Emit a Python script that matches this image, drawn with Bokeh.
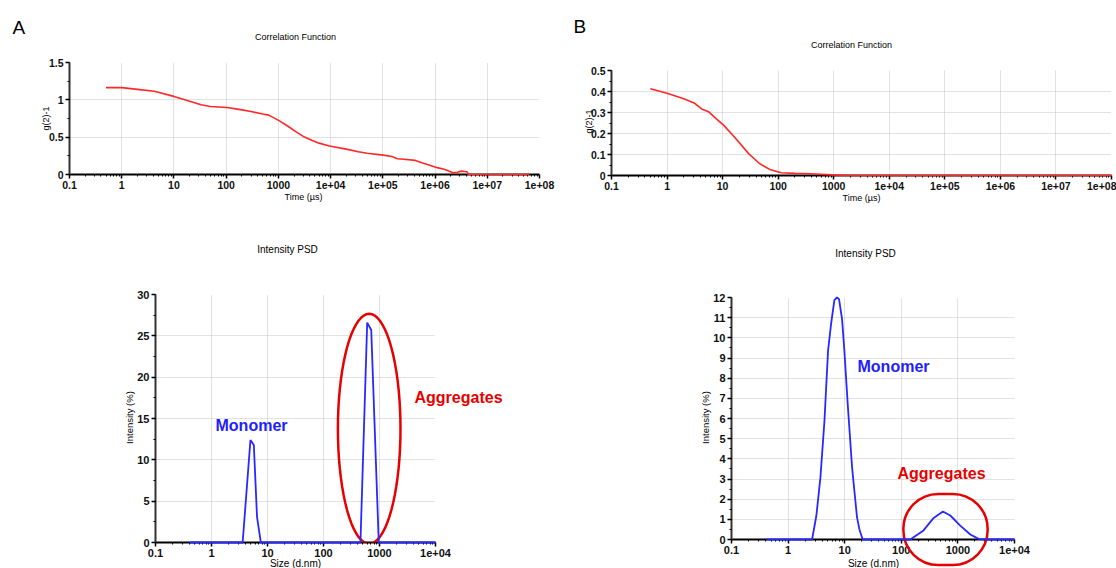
import math
from bokeh.plotting import figure
from bokeh.layouts import row, column
from bokeh.models import (Range1d, FixedTicker, SingleIntervalTicker,
                          CustomJSTickFormatter, Label, PolyAnnotation)
from bokeh.embed import file_html
from bokeh.resources import INLINE

# ---------------- data ----------------
time_ticks = [0.1, 1, 10, 100, 1000, 1e4, 1e5, 1e6, 1e7, 1e8]
time_tick_labels = ["0.1", "1", "10", "100", "1000", "1e+04", "1e+05", "1e+06", "1e+07", "1e+08"]
size_ticks = [0.1, 1, 10, 100, 1000, 1e4]
size_tick_labels = ["0.1", "1", "10", "100", "1000", "1e+04"]

# Panel A - correlation function
a_corr_time = [0.5, 1, 2, 4.2, 10, 20, 33, 50, 104, 200, 300, 500, 655, 1050, 1500,
               2300, 3000, 4350, 6000, 9500, 2e4, 3.4e4, 5e4, 1.02e5, 1.5e5, 1.9e5,
               2.5e5, 4.2e5, 6e5, 1e6, 1.5e6, 2.2e6, 2.7e6, 3.2e6, 4.1e6, 4.4e6, 1e7, 6.4e7]
a_corr_g2 = [1.163, 1.163, 1.14, 1.114, 1.046, 0.98, 0.934, 0.91, 0.898, 0.865, 0.844,
             0.81, 0.795, 0.718, 0.65, 0.561, 0.51, 0.458, 0.42, 0.382, 0.34, 0.305,
             0.285, 0.26, 0.24, 0.211, 0.205, 0.189, 0.15, 0.099, 0.07, 0.022, 0.03,
             0.045, 0.036, 0.0, 0.0, 0.0]

# Panel B - correlation function
b_corr_time = [0.5, 1.0, 2.0, 3.15, 4.2, 5.7, 7.7, 10.4, 16.3, 29.7, 46.7, 73, 114,
               200, 380, 930, 2000, 1e8]
b_corr_g2 = [0.413, 0.392, 0.365, 0.344, 0.317, 0.302, 0.27, 0.24, 0.183, 0.103, 0.056,
             0.027, 0.013, 0.01, 0.008, 0.003, 0.0, 0.0]

# Panel A - intensity PSD
a_psd_size = [0.4, 3.6, 4.96, 5.7, 6.5, 7.6, 457, 603, 712, 970, 1e4]
a_psd_intensity = [0, 0, 12.4, 11.8, 3.1, 0, 0, 26.6, 25.7, 0, 0]

# Panel B - intensity PSD
b_psd_size = [0.41, 2.65, 3.16, 3.73, 4.39, 5.08, 5.74, 6.57, 7.32, 7.94, 8.98, 9.87,
              11.3, 13.5, 16.5, 18.2, 20.8, 144, 247, 373, 544, 733, 1100, 1660, 2320,
              3000, 1e4]
b_psd_intensity = [0, 0, 1.19, 3.09, 5.89, 9.36, 10.68, 11.87, 12.0, 11.92, 10.93, 9.36,
                   6.72, 3.58, 1.1, 0.5, 0, 0, 0.45, 1.07, 1.39, 1.19, 0.69, 0.25, 0.03,
                   0, 0]

# ---------------- style ----------------
FONT = "Liberation Sans"
RED_LINE = "#ff2828"
BLUE_LINE = "#2828ff"
RED_TEXT = "#e60000"
BLUE_TEXT = "#1e1eff"

# page geometry: figure (x, y, w, h) and frame (left, top, right, bottom) in page px
GEOM = {
    "at": ((0, 0, 560, 215), (69, 62, 539, 174)),
    "bt": ((560, 0, 556, 215), (611, 70, 1111, 175)),
    "ab": ((0, 215, 560, 353), (155, 294, 435, 542)),
    "bb": ((560, 215, 556, 353), (731, 297, 1014, 539)),
}


def make_fig(key, xr, yr, xticks, xlabels, yint, font_size):
    (fx, fy, fw, fh), (l, t, r, b) = GEOM[key]
    p = figure(width=fw, height=fh, x_axis_type="log",
               x_range=Range1d(*xr), y_range=Range1d(*yr),
               output_backend="svg", toolbar_location=None,
               min_border_left=l - fx, min_border_right=fx + fw - r,
               min_border_top=t - fy, min_border_bottom=fy + fh - b)
    try:
        p.frame_align = False
    except AttributeError:
        pass
    p.outline_line_color = None
    p.background_fill_color = "white"
    p.border_fill_color = "white"
    minor = []
    for tk in xticks[:-1]:
        minor += [tk * m for m in range(2, 10)]
    p.xaxis.ticker = FixedTicker(ticks=xticks, minor_ticks=minor)
    p.xaxis.formatter = CustomJSTickFormatter(args=dict(t=xticks, l=xlabels), code="""
        let k = 0, best = Infinity;
        for (let i = 0; i < t.length; i++) {
            const d = Math.abs(Math.log10(t[i]) - Math.log10(tick));
            if (d < best) { best = d; k = i; }
        }
        return l[k];
    """)
    p.yaxis.ticker = SingleIntervalTicker(interval=yint, num_minor_ticks=2)
    p.yaxis.formatter = CustomJSTickFormatter(code="return String(Math.round(tick * 1000) / 1000);")
    for ax in (p.xaxis, p.yaxis):
        ax.axis_line_width = 2
        ax.major_tick_in = 0
        ax.major_tick_out = 4
        ax.minor_tick_in = 0
        ax.minor_tick_out = 2
        ax.major_tick_line_width = 1.5
        ax.major_label_text_font = FONT
        ax.major_label_text_font_style = "bold"
        ax.major_label_text_font_size = font_size
        ax.major_label_text_color = "#111111"
        ax.major_label_standoff = 2
    p.xaxis.axis_line_color = "#000000"
    p.yaxis.axis_line_color = "#333333"
    for g in (p.xgrid, p.ygrid):
        g.grid_line_color = "#c4c4c4"
        g.grid_line_dash = "1 1"
        g.grid_line_width = 1
    return p


def to_data(key, xr, yr, px, py):
    (_, (l, t, r, b)) = GEOM[key]
    lx0, lx1 = math.log10(xr[0]), math.log10(xr[1])
    lx = lx0 + (px - l) / (r - l) * (lx1 - lx0)
    y = yr[0] + (b - py) / (b - t) * (yr[1] - yr[0])
    return 10 ** lx, y


def add_text(p, key, xr, yr, px, py, text, size, place="center", align="center",
             baseline="middle", angle=0.0, color="#000000", style="normal"):
    x, y = to_data(key, xr, yr, px, py)
    lab = Label(x=x, y=y, text=text, text_font=FONT, text_font_size=size,
                text_align=align, text_baseline=baseline, angle=angle,
                text_color=color, text_font_style=style)
    p.add_layout(lab, place)


def add_ellipse(p, key, xr, yr, cx, cy, rx, ry):
    xs, ys = [], []
    for i in range(73):
        th = 2 * math.pi * i / 72
        x, y = to_data(key, xr, yr, cx + rx * math.cos(th), cy + ry * math.sin(th))
        xs.append(x)
        ys.append(y)
    p.add_layout(PolyAnnotation(xs=xs, ys=ys, xs_units="data", ys_units="data",
                                fill_color=None, line_color=RED_TEXT, line_alpha=1.0,
                                line_width=2.5))


def add_ring(p, key, xr, yr, cx, cy, rx, ry, place="right"):
    # rounded outline drawn as a padded label border (not clipped in a side panel)
    x, y = to_data(key, xr, yr, cx, cy)
    lab = Label(x=x, y=y, text=" ", text_font=FONT, text_font_size="1px",
                text_align="center", text_baseline="middle",
                padding=dict(left=int(rx), right=int(rx), top=int(ry), bottom=int(ry)),
                border_radius=int(ry),
                border_line_color=RED_TEXT, border_line_width=2.5,
                background_fill_color=None)
    p.add_layout(lab, place)


# ---------------- A top ----------------
xr_t, yr_at = (0.1, 1e8), (0, 1.5)
p_at = make_fig("at", xr_t, yr_at, time_ticks, time_tick_labels, 0.5, "10.5px")
p_at.line(a_corr_time, a_corr_g2, line_color=RED_LINE, line_width=1.6, level="overlay")
add_text(p_at, "at", xr_t, yr_at, 12, 26.5, "A", "19px", place="above", align="left")
add_text(p_at, "at", xr_t, yr_at, 295, 36, "Correlation Function", "9px", place="above")
add_text(p_at, "at", xr_t, yr_at, 45, 118, "g(2)-1", "9px", place="left", angle=math.pi / 2)
add_text(p_at, "at", xr_t, yr_at, 303, 196, "Time (\u00b5s)", "9px", place="below")

# ---------------- B top ----------------
yr_bt = (0, 0.5)
p_bt = make_fig("bt", xr_t, yr_bt, time_ticks, time_tick_labels, 0.1, "10.5px")
p_bt.line(b_corr_time, b_corr_g2, line_color=RED_LINE, line_width=1.6, level="overlay")
add_text(p_bt, "bt", xr_t, yr_bt, 573, 26, "B", "19px", place="above", align="left")
add_text(p_bt, "bt", xr_t, yr_bt, 851, 44, "Correlation Function", "9px", place="above")
add_text(p_bt, "bt", xr_t, yr_bt, 588, 121, "g(2)-1", "9px", place="above", angle=math.pi / 2)
add_text(p_bt, "bt", xr_t, yr_bt, 861, 197, "Time (\u00b5s)", "9px", place="below")

# ---------------- A bottom ----------------
xr_s, yr_ab = (0.1, 1e4), (0, 30)
p_ab = make_fig("ab", xr_s, yr_ab, size_ticks, size_tick_labels, 5, "11px")
p_ab.line(a_psd_size, a_psd_intensity, line_color=BLUE_LINE, line_width=1.8, level="overlay")
add_ellipse(p_ab, "ab", xr_s, yr_ab, 368.7, 428.3, 31.3, 115)
add_text(p_ab, "ab", xr_s, yr_ab, 287, 249, "Intensity PSD", "10px", place="above")
add_text(p_ab, "ab", xr_s, yr_ab, 129, 417, "Intensity (%)", "9.5px", place="left",
         angle=math.pi / 2)
add_text(p_ab, "ab", xr_s, yr_ab, 295, 563, "Size (d.nm)", "10px", place="left")
add_text(p_ab, "ab", xr_s, yr_ab, 215, 424.7, "Monomer", "16px", align="left",
         color=BLUE_TEXT, style="bold")
add_text(p_ab, "ab", xr_s, yr_ab, 414, 396.7, "Aggregates", "16px", place="right",
         align="left", color=RED_TEXT, style="bold")

# ---------------- B bottom ----------------
yr_bb = (0, 12)
p_bb = make_fig("bb", xr_s, yr_bb, size_ticks, size_tick_labels, 1, "11px")
p_bb.line(b_psd_size, b_psd_intensity, line_color=BLUE_LINE, line_width=1.8, level="overlay")
add_ring(p_bb, "bb", xr_s, yr_bb, 945, 529, 42, 35, place="right")
add_text(p_bb, "bb", xr_s, yr_bb, 865, 253, "Intensity PSD", "10px", place="above")
add_text(p_bb, "bb", xr_s, yr_bb, 705, 417, "Intensity (%)", "9.5px", place="left",
         angle=math.pi / 2)
add_text(p_bb, "bb", xr_s, yr_bb, 873, 563, "Size (d.nm)", "10px", place="left")
add_text(p_bb, "bb", xr_s, yr_bb, 857, 366, "Monomer", "16px", align="left",
         color=BLUE_TEXT, style="bold")
add_text(p_bb, "bb", xr_s, yr_bb, 897, 473, "Aggregates", "16px", align="left",
         color=RED_TEXT, style="bold")

layout = column(row(p_at, p_bt, spacing=0), row(p_ab, p_bb, spacing=0), spacing=0)
open("out.html", "w").write(file_html(layout, INLINE))
